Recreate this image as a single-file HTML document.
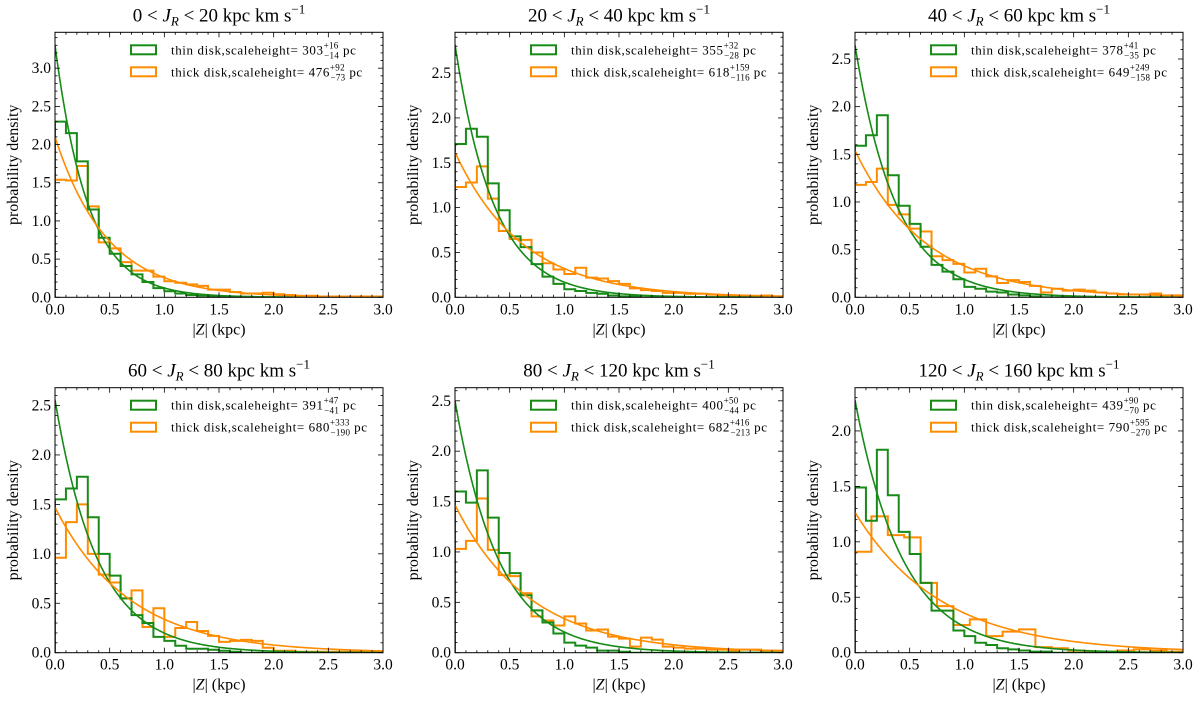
<!DOCTYPE html>
<html><head><meta charset="utf-8"><style>
body{margin:0;background:#fff;}
svg{display:block;font-family:"Liberation Serif",serif;}
</style></head><body>
<svg id="fig" width="1200" height="705" viewBox="0 0 1200 705" xmlns="http://www.w3.org/2000/svg"></svg>
<script>
const panelTitles=[["0","20"],["20","40"],["40","60"],["60","80"],["80","120"],["120","160"]];
const thinH=[303,355,378,391,400,439];
const thickH=[476,618,649,680,682,790];
const thinErr=[["+16","−14"],["+32","−28"],["+41","−35"],["+47","−41"],["+50","−44"],["+90","−70"]];
const thickErr=[["+92","−73"],["+159","−116"],["+249","−158"],["+333","−190"],["+416","−213"],["+595","−270"]];
const thinBinW=[0.1,0.1,0.1,0.1,0.1,0.1];
const thickBinW=[0.1,0.1,0.1,0.1,0.1,0.15];
const thin0=[2.3,2.15,1.78,1.15,0.78,0.57,0.41,0.30,0.20,0.12,0.08,0.05,0.03,0.02,0.01,0.01,0.005,0.005,0,0,0,0,0,0,0,0,0,0,0,0];
const thick0=[1.54,1.53,1.72,1.19,0.72,0.64,0.46,0.35,0.35,0.27,0.21,0.19,0.17,0.15,0.10,0.10,0.07,0.05,0.05,0.06,0.04,0.03,0.02,0.02,0.01,0.01,0.01,0.01,0.01,0.01];
const thin1=[1.71,1.88,1.79,1.27,0.97,0.68,0.56,0.37,0.23,0.15,0.09,0.07,0.05,0.04,0.02,0.01,0.01,0,0,0,0,0,0,0,0,0,0,0,0,0];
const thick1=[1.23,1.28,1.46,1.10,0.74,0.65,0.64,0.50,0.38,0.31,0.26,0.33,0.22,0.21,0.18,0.15,0.10,0.08,0.07,0.05,0.05,0.04,0.04,0.03,0.02,0.02,0.02,0.01,0.02,0.01];
const thin2=[1.59,1.70,1.91,1.28,0.96,0.77,0.53,0.34,0.27,0.19,0.11,0.09,0.06,0.05,0.03,0.02,0.01,0,0,0,0,0,0,0,0,0,0,0,0,0];
const thick2=[1.18,1.21,1.35,0.97,0.87,0.72,0.69,0.43,0.39,0.35,0.26,0.30,0.22,0.15,0.18,0.16,0.12,0.05,0.09,0.07,0.08,0.07,0.05,0.04,0.03,0.03,0.03,0.04,0.02,0.02];
const thin3=[1.55,1.66,1.78,1.37,1.00,0.78,0.55,0.38,0.30,0.16,0.12,0.07,0.04,0.04,0.03,0.02,0.01,0,0,0,0,0,0,0,0,0,0,0,0,0];
const thick3=[0.96,1.32,1.50,1.00,0.79,0.71,0.55,0.63,0.26,0.45,0.16,0.25,0.31,0.22,0.17,0.11,0.12,0.13,0.12,0.05,0.02,0.02,0.01,0.01,0.01,0.01,0.01,0.01,0.01,0.01];
const thin4=[1.60,1.49,1.81,1.34,0.99,0.79,0.57,0.42,0.30,0.19,0.10,0.07,0.05,0.02,0.02,0.01,0,0,0,0,0,0,0,0,0,0,0,0,0,0];
const thick4=[1.03,1.11,1.53,1.02,0.77,0.76,0.59,0.36,0.32,0.27,0.36,0.29,0.22,0.23,0.16,0.14,0.06,0.15,0.13,0.06,0.05,0.04,0.04,0.03,0.03,0.02,0.03,0.03,0.02,0.02];
const thin5=[1.49,1.19,1.83,1.42,1.09,0.89,0.63,0.38,0.38,0.20,0.15,0.09,0.07,0.04,0.03,0.02,0.01,0.01,0,0,0,0,0,0,0,0,0,0,0,0];
const thick5=[0.91,1.23,1.06,1.04,0.63,0.42,0.25,0.30,0.15,0.19,0.21,0.05,0.04,0.02,0.01,0.01,0.02,0.03,0.02,0.01];
const thinData=[thin0,thin1,thin2,thin3,thin4,thin5];
const thickData=[thick0,thick1,thick2,thick3,thick4,thick5];
const yMax=[3.47,2.955,2.78,2.68,2.63,2.39];
const xTicks=["0.0","0.5","1.0","1.5","2.0","2.5","3.0"];
const yTickVals=[0,0.5,1,1.5,2,2.5,3];

const NS="http://www.w3.org/2000/svg";
const fig=document.getElementById('fig');
const GREEN="#178a17", ORANGE="#ff8c00";
function mk(tag,attrs,parent){const e=document.createElementNS(NS,tag);for(const k in attrs)e.setAttribute(k,attrs[k]);parent.appendChild(e);return e;}
const lefts=[55,455,855], tops=[32.3,387.7], W=328, H=265;

for(let p=0;p<6;p++){
  const L=lefts[p%3], T=tops[Math.floor(p/3)], B=T+H, R=L+W;
  const g=mk('g',{},fig);
  
  
  const xs=v=>L+v/3*W, ys=v=>B-v/yMax[p]*H;
  const clipId='c'+p;
  const cp=mk('clipPath',{id:clipId},g); mk('rect',{x:L,y:T,width:W,height:H},cp);
  const plot=mk('g',{'clip-path':'url(#'+clipId+')'},g);
  function hist(data,bw,color,name){
    let d='M'+xs(0)+','+ys(0);
    data.forEach((v,i)=>{d+=' L'+xs(i*bw)+','+ys(v)+' L'+xs((i+1)*bw)+','+ys(v);});
    d+=' L'+xs(data.length*bw)+','+ys(0);
    const e=mk('path',{d:d,fill:'none',stroke:color,'stroke-width':2,'stroke-linejoin':'miter'},plot);
    
    
  }
  hist(thickData[p],thickBinW[p],ORANGE,'thick-disk-histogram');
  hist(thinData[p],thinBinW[p],GREEN,'thin-disk-histogram');
  function curve(h,color,name){
    const hk=h/1000;let d='';
    for(let i=0;i<=300;i++){const z=i*0.01;d+=(i?' L':'M')+xs(z).toFixed(2)+','+ys(Math.exp(-z/hk)/hk).toFixed(2);}
    const e=mk('path',{d:d,fill:'none',stroke:color,'stroke-width':1.6},plot);
    
    
  }
  curve(thinH[p],GREEN,'thin-disk-fit');
  curve(thickH[p],ORANGE,'thick-disk-fit');
  const fr=mk('rect',{x:L,y:T,width:W,height:H,fill:'none',stroke:'#000','stroke-width':1},g);
  
  
  for(let i=0;i<=30;i++){
    const x=xs(i*0.1), len=(i%5==0)?5:2.5;
    mk('line',{x1:x,x2:x,y1:B,y2:B-len,stroke:'#000','stroke-width':0.8},g);
    mk('line',{x1:x,x2:x,y1:T,y2:T+len,stroke:'#000','stroke-width':0.8},g);
  }
  xTicks.forEach((t,i)=>{
    const e=mk('text',{x:xs(i*0.5),y:B+17,'text-anchor':'middle','font-size':15.5},g);
    e.textContent=t;
    
    
  });
  for(let i=0;i*0.1<=yMax[p];i++){
    const y=ys(i*0.1), len=(i%5==0)?5:2.5;
    mk('line',{x1:L,x2:L+len,y1:y,y2:y,stroke:'#000','stroke-width':0.8},g);
    mk('line',{x1:R,x2:R-len,y1:y,y2:y,stroke:'#000','stroke-width':0.8},g);
  }
  yTickVals.filter(v=>v<=yMax[p]).forEach(v=>{
    const e=mk('text',{x:L-4,y:ys(v)+5,'text-anchor':'end','font-size':15.5},g);
    e.textContent=v.toFixed(1);
    
    
  });
  const xl=mk('text',{x:L+W/2,y:B+37,'text-anchor':'middle','font-size':16},g);
  xl.innerHTML='|<tspan font-style="italic">Z</tspan>| (kpc)';
  
  
  const yl=mk('text',{x:0,y:0,'text-anchor':'middle','font-size':16,transform:'translate('+(L-37)+','+(T+H/2)+') rotate(-90)'},g);
  yl.textContent='probability density';
  
  
  const tt=mk('text',{x:L+W/2,y:T-11,'text-anchor':'middle','font-size':19},g);
  tt.innerHTML=panelTitles[p][0]+' &lt; <tspan font-style="italic">J</tspan><tspan font-style="italic" font-size="13" dy="4">R</tspan><tspan dy="-4"> &lt; '+panelTitles[p][1]+' kpc km s</tspan><tspan font-size="13" dy="-8">−1</tspan>';
  
  
  [[GREEN,'thin disk,scaleheight= ',thinH[p],thinErr[p],'legend-thin-disk'],[ORANGE,'thick disk,scaleheight= ',thickH[p],thickErr[p],'legend-thick-disk']].forEach((it,k)=>{
    const cy=T+18+k*22;
    const lg=mk('g',{},g);
    
    
    mk('rect',{x:L+76,y:cy-5,width:25,height:9,fill:'none',stroke:it[0],'stroke-width':2},lg);
    const t=mk('text',{x:L+116,y:cy+4,'font-size':13,'letter-spacing':0.6},lg);
    t.innerHTML=it[1]+it[2]+'<tspan font-size="9" letter-spacing="0.3" dy="-6">'+it[3][0]+'</tspan><tspan font-size="9" letter-spacing="0.3" dx="-'+(it[3][0].length*4.8)+'" dy="10">'+it[3][1]+'</tspan><tspan dy="-4">  pc</tspan>';
  });
}
</script>
</body></html>
